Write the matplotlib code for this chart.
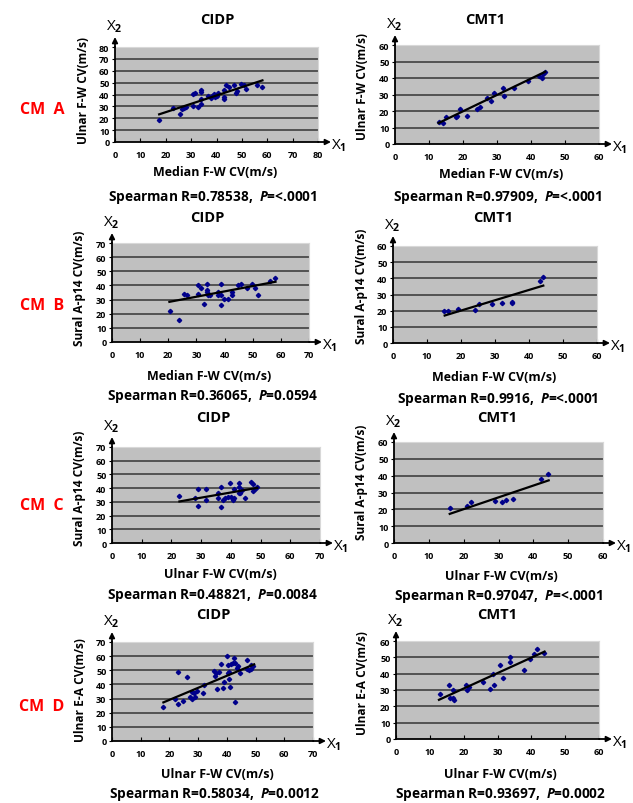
import matplotlib
matplotlib.use("Agg")
import matplotlib.pyplot as plt

plt.rcParams['font.family'] = ['Open Sans', 'DejaVu Sans']
plt.rcParams['mathtext.fontset'] = 'custom'
plt.rcParams['mathtext.rm'] = 'Open Sans:bold'
plt.rcParams['mathtext.it'] = 'Open Sans:italic:bold'

# ---------------- data ----------------
row_labels = ["CM  A", "CM  B", "CM  C", "CM  D"]
col_titles = ["CIDP", "CMT1"]

# Row A: Median F-W CV vs Ulnar F-W CV
a_cidp_x = [17.4, 22.7, 25.6, 26.6, 27.1, 27.9, 30.8, 31.7, 30.8, 32.8, 33.7, 33.8, 33.7, 33.7,
            36.7, 37.8, 38.4, 39.1, 39.3, 40.0, 40.6, 42.9, 43.0, 43.0, 43.9, 45.0, 46.9, 47.6,
            47.9, 49.8, 50.8, 51.8, 56.0, 58.1]
a_cidp_y = [18.2, 28.6, 23.3, 27.5, 28.9, 29.5, 40.1, 41.0, 30.3, 29.5, 43.8, 42.0, 36.5, 32.3,
            38.7, 37.3, 38.7, 40.7, 37.9, 38.7, 41.5, 37.9, 35.9, 43.5, 47.7, 46.6, 48.0, 41.0,
            42.7, 48.6, 48.0, 44.9, 48.0, 46.6]
a_cidp_fit_x = [17.4, 58.1]
a_cidp_fit_y = [23.3, 51.9]

a_cmt_x = [13.0, 14.0, 15.0, 17.9, 18.2, 19.2, 21.1, 24.1, 25.1, 27.0, 28.2, 29.0, 31.9, 32.2,
           35.1, 39.0, 42.3, 43.2, 43.5, 44.1]
a_cmt_y = [13.1, 12.7, 16.2, 16.2, 17.2, 21.2, 17.2, 21.2, 22.2, 27.9, 26.3, 30.9, 33.9, 28.9,
           33.9, 38.2, 41.0, 39.8, 42.4, 43.8]
a_cmt_fit_x = [12.8, 44.2]
a_cmt_fit_y = [12.7, 43.8]

# Row B: Median F-W CV vs Sural A-p14 CV
b_cidp_x = [20.7, 23.7, 25.7, 26.8, 30.7, 30.7, 31.6, 32.7, 33.9, 33.9, 33.9, 34.2, 34.8, 37.5,
            37.8, 38.6, 38.6, 38.7, 39.8, 41.1, 42.7, 42.7, 44.9, 46.0, 47.8, 49.9, 50.8, 51.8,
            56.1, 57.9]
b_cidp_y = [22.0, 15.8, 33.8, 33.1, 40.2, 33.8, 38.1, 26.7, 40.9, 36.6, 35.7, 33.1, 33.1, 35.7,
            33.1, 40.9, 26.0, 33.1, 30.7, 30.7, 35.7, 33.1, 40.2, 40.9, 38.1, 40.9, 38.1, 33.1,
            42.8, 44.9]
b_cidp_fit_x = [20.4, 58.1]
b_cidp_fit_y = [28.4, 42.6]

b_cmt_x = [15.0, 16.2, 19.2, 24.1, 25.3, 29.2, 32.2, 35.1, 35.1, 43.1, 44.1]
b_cmt_y = [19.7, 19.7, 21.1, 20.7, 24.2, 24.2, 24.8, 25.6, 24.8, 38.1, 41.0]
b_cmt_fit_x = [15.2, 44.2]
b_cmt_fit_y = [17.0, 35.5]

# Row C: Ulnar F-W CV vs Sural A-p14 CV
c_cidp_x = [22.7, 27.8, 28.9, 28.9, 31.7, 31.7, 35.6, 35.8, 36.7, 36.7, 37.5, 37.9, 39.0, 39.8,
            40.1, 40.7, 40.9, 41.2, 42.6, 42.9, 42.9, 43.1, 43.7, 44.8, 46.7, 47.4, 47.6, 48.2,
            48.7]
c_cidp_y = [34.1, 32.9, 39.7, 27.1, 39.7, 31.2, 36.1, 32.9, 40.9, 26.4, 31.2, 32.7, 33.7, 44.0,
            33.7, 31.2, 39.2, 32.7, 36.8, 44.0, 40.9, 36.1, 38.7, 32.7, 44.8, 42.9, 38.0, 39.7,
            40.9]
c_cidp_fit_x = [22.7, 48.9]
c_cidp_fit_y = [30.3, 40.2]

c_cmt_x = [16.0, 21.1, 22.0, 29.1, 31.1, 32.2, 34.2, 42.1, 44.1]
c_cmt_y = [20.9, 21.7, 24.3, 25.2, 24.3, 25.6, 26.2, 38.2, 41.2]
c_cmt_fit_x = [16.0, 44.4]
c_cmt_fit_y = [17.3, 37.2]

# Row D: Ulnar F-W CV vs Ulnar E-A CV
d_cidp_x = [17.9, 22.0, 22.9, 23.1, 24.9, 26.1, 27.0, 27.8, 28.0, 28.6, 28.9, 29.5, 31.8, 32.1,
            35.6, 35.9, 36.2, 36.7, 37.1, 37.9, 38.5, 39.0, 39.9, 40.3, 40.5, 40.9, 40.9, 41.1,
            41.4, 42.0, 42.6, 42.8, 42.8, 43.4, 43.8, 44.6, 46.9, 47.1, 47.8, 48.3, 48.4, 49.0]
d_cidp_y = [23.7, 29.7, 48.7, 26.1, 28.5, 45.1, 30.9, 34.4, 29.7, 34.0, 30.9, 35.2, 34.0, 39.9,
            49.4, 46.3, 48.0, 36.8, 48.7, 54.6, 37.3, 41.6, 60.1, 48.2, 53.4, 48.7, 43.9, 38.5,
            54.2, 55.3, 58.9, 55.3, 27.3, 51.8, 52.7, 48.0, 57.0, 51.0, 49.9, 51.0, 53.9, 52.7]
d_cidp_fit_x = [17.9, 49.5]
d_cidp_fit_y = [27.3, 54.2]

d_cmt_x = [12.9, 15.8, 15.9, 16.8, 16.8, 17.0, 20.6, 20.9, 21.6, 25.7, 27.9, 28.8, 28.9, 30.8,
           31.7, 33.7, 33.7, 37.7, 39.6, 40.8, 41.7, 43.7]
d_cmt_y = [27.4, 33.1, 25.4, 24.8, 30.1, 23.8, 33.1, 30.1, 32.1, 35.0, 30.9, 40.0, 33.1, 45.1,
           37.2, 50.2, 47.2, 42.1, 49.2, 52.2, 55.3, 52.8]
d_cmt_fit_x = [12.7, 43.9]
d_cmt_fit_y = [24.0, 53.5]

x_labels = ["Median F-W CV(m/s)", "Median F-W CV(m/s)", "Ulnar F-W CV(m/s)", "Ulnar F-W CV(m/s)"]
y_labels = ["Ulnar F-W CV(m/s)", "Sural A-p14 CV(m/s)", "Sural A-p14 CV(m/s)", "Ulnar E-A CV(m/s)"]
r_values = [["0.78538", "0.97909"], ["0.36065", "0.9916"], ["0.48821", "0.97047"], ["0.58034", "0.93697"]]
p_values = [["=<.0001", "=<.0001"], ["=0.0594", "=<.0001"], ["=0.0084", "=<.0001"], ["=0.0012", "=0.0002"]]
axis_max = [[80, 60], [70, 60], [70, 60], [70, 60]]

series = [
    [(a_cidp_x, a_cidp_y, a_cidp_fit_x, a_cidp_fit_y), (a_cmt_x, a_cmt_y, a_cmt_fit_x, a_cmt_fit_y)],
    [(b_cidp_x, b_cidp_y, b_cidp_fit_x, b_cidp_fit_y), (b_cmt_x, b_cmt_y, b_cmt_fit_x, b_cmt_fit_y)],
    [(c_cidp_x, c_cidp_y, c_cidp_fit_x, c_cidp_fit_y), (c_cmt_x, c_cmt_y, c_cmt_fit_x, c_cmt_fit_y)],
    [(d_cidp_x, d_cidp_y, d_cidp_fit_x, d_cidp_fit_y), (d_cmt_x, d_cmt_y, d_cmt_fit_x, d_cmt_fit_y)],
]

# ---------------- layout (pixels) ----------------
W, H = 633, 804
fig = plt.figure(figsize=(W / 100, H / 100), dpi=100)

# plot-area rectangles: left, top, right, bottom
rects = [
    [(115, 48, 318, 143), (395, 46, 599, 145)],
    [(112, 244, 309, 343), (393, 247, 597, 344)],
    [(112, 448, 320, 544), (394, 443, 603, 544)],
    [(112, 643, 313, 742), (396, 642, 599, 740)],
]
title_pos = [[(217, 20), (485, 20)], [(207, 218), (493, 218)],
             [(213, 418), (497, 418)], [(213, 615), (497, 615)]]
xlabel_pos = [[(215, 173), (501, 175)], [(209, 377), (494, 378)],
              [(220, 575), (501, 577)], [(217, 775), (500, 775)]]
spear_pos = [[(213, 198), (498, 198)], [(213, 397), (498, 400)],
             [(213, 595), (499, 597)], [(214, 795), (500, 795)]]
ylabel_pos = [[(83, 90), (363, 87)], [(80, 288), (362, 286)],
              [(80, 488), (362, 482)], [(80, 690), (363, 683)]]
row_label_pos = [(42, 110), (42, 306), (42, 506), (42, 707)]


def fx(x):
    return x / W


def fy(y):
    return 1 - y / H


for r in range(4):
    fig.text(fx(row_label_pos[r][0]), fy(row_label_pos[r][1]), row_labels[r], color="#ff0000",
             fontsize=11.5, fontweight="bold", ha="center", va="center")
    for c in range(2):
        l, t, rr, b = rects[r][c]
        ax = fig.add_axes([fx(l), fy(b), (rr - l) / W, (b - t) / H])
        mx = axis_max[r][c]
        xs, ys, fxs, fys = series[r][c]
        ax.set_facecolor("#c0c0c0")
        ax.set_xlim(0, mx)
        ax.set_ylim(0, mx)
        ticks = list(range(0, mx + 1, 10))
        ax.set_xticks(ticks)
        ax.set_yticks(ticks)
        ax.set_xticklabels([str(v) for v in ticks], fontsize=6.5, fontweight="bold")
        ax.set_yticklabels([str(v) for v in ticks], fontsize=6.5, fontweight="bold")
        ax.tick_params(axis="x", direction="in", length=3, width=0.8, pad=6)
        ax.tick_params(axis="y", direction="out", length=2, width=0.8, pad=2)
        for v in ticks[1:]:
            ax.axhline(v, color="#4a4a4a", lw=1.3, zorder=1)
        for s in ["top", "right"]:
            ax.spines[s].set_color("#d8d8d8")
            ax.spines[s].set_linewidth(0.8)
        for s in ["left", "bottom"]:
            ax.spines[s].set_color("black")
            ax.spines[s].set_linewidth(1.3)
            ax.spines[s].set_zorder(4)
        ax.plot(xs, ys, linestyle="none", marker="D", markersize=2.2, color="#00008b", zorder=3)
        ax.plot(fxs, fys, color="black", lw=1.6, zorder=3)

        # arrows for axes
        xw = (rr - l)
        yh = (b - t)
        ax.annotate("", xy=(1 + 13 / xw, 0), xytext=(1, 0), xycoords="axes fraction",
                    arrowprops=dict(arrowstyle="-|>", color="black", lw=1.3,
                                    mutation_scale=8, shrinkA=0, shrinkB=0),
                    annotation_clip=False)
        ax.annotate("", xy=(0, 1 + 10 / yh), xytext=(0, 1), xycoords="axes fraction",
                    arrowprops=dict(arrowstyle="-|>", color="black", lw=1.3,
                                    mutation_scale=8, shrinkA=0, shrinkB=0),
                    annotation_clip=False)
        fig.text(fx(rr + 21), fy(b + 3), r"X$_1$", fontsize=11, ha="center", va="center")
        fig.text(fx(l - 1), fy(t - 21), r"X$_2$", fontsize=11, ha="center", va="center")

        tx, ty = title_pos[r][c]
        fig.text(fx(tx), fy(ty), col_titles[c], fontsize=10.5, fontweight="bold",
                 ha="center", va="center")
        lx, ly = xlabel_pos[r][c]
        fig.text(fx(lx), fy(ly), x_labels[r], fontsize=9.0, fontweight="bold",
                 ha="center", va="center")
        yx, yy = ylabel_pos[r][c]
        fig.text(fx(yx), fy(yy), y_labels[r], fontsize=8.6, fontweight="bold",
                 ha="center", va="center", rotation=90)
        sx, sy = spear_pos[r][c]
        fig.text(fx(sx), fy(sy),
                 "Spearman R=" + r_values[r][c] + r",  $\mathit{P}$" + p_values[r][c],
                 fontsize=9.8, fontweight="bold", ha="center", va="center")

fig.savefig("out.png", dpi=100)
